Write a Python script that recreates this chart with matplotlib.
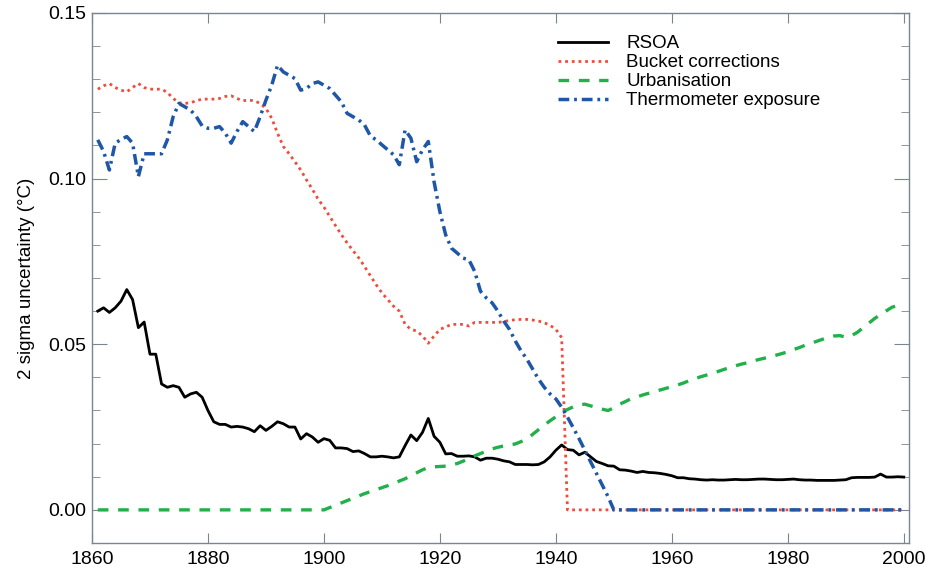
import numpy as np
import matplotlib
matplotlib.use('Agg')
import matplotlib.pyplot as plt

plt.rcParams['font.family'] = ['Liberation Sans', 'DejaVu Sans']

# years 1861-2000
years = np.arange(1861, 2001)

rsoa = [0.0600, 0.0610, 0.0596, 0.0610, 0.0630, 0.0665, 0.0635, 0.0550, 0.0567, 0.0470,
        0.0470, 0.0380, 0.0370, 0.0375, 0.0370, 0.0340, 0.0350, 0.0355, 0.0340, 0.0300,
        0.0266, 0.0258, 0.0258, 0.0250, 0.0252, 0.0250, 0.0245, 0.0236, 0.0254, 0.0240,
        0.0252, 0.0266, 0.0260, 0.0250, 0.0250, 0.0214, 0.0230, 0.0220, 0.0204, 0.0215,
        0.0210, 0.0187, 0.0187, 0.0185, 0.0176, 0.0178, 0.0170, 0.0160, 0.0160, 0.0162,
        0.0160, 0.0157, 0.0160, 0.0194, 0.0226, 0.0209, 0.0234, 0.0276, 0.0222, 0.0204,
        0.0169, 0.0170, 0.0162, 0.0162, 0.0163, 0.0160, 0.0150, 0.0156, 0.0156, 0.0153,
        0.0148, 0.0145, 0.0137, 0.0137, 0.0137, 0.0136, 0.0137, 0.0145, 0.0160, 0.0180,
        0.0196, 0.0182, 0.0180, 0.0166, 0.0174, 0.0160, 0.0146, 0.0140, 0.0133, 0.0132,
        0.0121, 0.0120, 0.0117, 0.0113, 0.0116, 0.0113, 0.0112, 0.0110, 0.0107, 0.0103,
        0.0097, 0.0097, 0.0094, 0.0093, 0.0091, 0.0090, 0.0091, 0.0090, 0.0090, 0.0091,
        0.0092, 0.0091, 0.0091, 0.0092, 0.0093, 0.0093, 0.0092, 0.0091, 0.0091, 0.0092,
        0.0093, 0.0091, 0.0090, 0.0090, 0.0089, 0.0089, 0.0089, 0.0089, 0.0090, 0.0091,
        0.0097, 0.0098, 0.0098, 0.0098, 0.0099, 0.0108, 0.0099, 0.0099, 0.0100, 0.0099]

bucket = [0.1270, 0.1280, 0.1287, 0.1275, 0.1267, 0.1262, 0.1275, 0.1287, 0.1275, 0.1270,
          0.1270, 0.1270, 0.1260, 0.1242, 0.1229, 0.1227, 0.1229, 0.1235, 0.1240, 0.1240,
          0.1240, 0.1242, 0.1248, 0.1250, 0.1242, 0.1235, 0.1237, 0.1235, 0.1227, 0.1212,
          0.1182, 0.1137, 0.1097, 0.1075, 0.1051, 0.1026, 0.0996, 0.0968, 0.0938, 0.0914,
          0.0886, 0.0858, 0.0831, 0.0806, 0.0783, 0.0761, 0.0735, 0.0707, 0.0680, 0.0655,
          0.0635, 0.0615, 0.0600, 0.0560, 0.0545, 0.0540, 0.0525, 0.0503, 0.0525, 0.0545,
          0.0552, 0.0560, 0.0560, 0.0560, 0.0555, 0.0566, 0.0566, 0.0566, 0.0566, 0.0566,
          0.0568, 0.0572, 0.0574, 0.0575, 0.0575, 0.0573, 0.0570, 0.0565, 0.0557, 0.0545,
          0.0520] + [0.0] * 59

urban = [0.0] * 40 + [
    0.0007, 0.0014, 0.0021, 0.0028, 0.0035, 0.0042, 0.0049, 0.0055, 0.0061, 0.0067,
    0.0073, 0.0080, 0.0087, 0.0094, 0.0103, 0.0112, 0.0121, 0.0128, 0.0130, 0.0131,
    0.0132, 0.0136, 0.0140, 0.0147, 0.0155, 0.0163, 0.0170, 0.0177, 0.0184, 0.0189,
    0.0193, 0.0196, 0.0199, 0.0206, 0.0214, 0.0228, 0.0242, 0.0256, 0.0269, 0.0281,
    0.0294, 0.0303, 0.0311, 0.0317, 0.0319, 0.0314, 0.0309, 0.0304, 0.0300, 0.0308,
    0.0319, 0.0327, 0.0336, 0.0341, 0.0347, 0.0352, 0.0357, 0.0362, 0.0367, 0.0372,
    0.0377, 0.0383, 0.0390, 0.0396, 0.0402, 0.0407, 0.0412, 0.0418, 0.0424, 0.0430,
    0.0435, 0.0440, 0.0444, 0.0449, 0.0454, 0.0458, 0.0462, 0.0467, 0.0472, 0.0477,
    0.0484, 0.0490, 0.0497, 0.0503, 0.0509, 0.0515, 0.0521, 0.0525, 0.0526, 0.0521,
    0.0526, 0.0536, 0.0550, 0.0564, 0.0578, 0.0590, 0.0601, 0.0612, 0.0617, 0.0608]

thermo = [0.1117, 0.1082, 0.1026, 0.1107, 0.1118, 0.1127, 0.1107, 0.1006, 0.1075, 0.1075,
          0.1075, 0.1075, 0.1117, 0.1187, 0.1227, 0.1217, 0.1207, 0.1187, 0.1159, 0.1152,
          0.1152, 0.1157, 0.1137, 0.1107, 0.1142, 0.1172, 0.1157, 0.1142, 0.1187, 0.1237,
          0.1282, 0.1342, 0.1322, 0.1312, 0.1302, 0.1267, 0.1272, 0.1287, 0.1292, 0.1282,
          0.1272, 0.1252, 0.1232, 0.1197, 0.1187, 0.1177, 0.1162, 0.1129, 0.1117, 0.1102,
          0.1087, 0.1072, 0.1042, 0.1147, 0.1122, 0.1051, 0.1087, 0.1112, 0.0990, 0.0900,
          0.0830, 0.0790, 0.0775, 0.0760, 0.0755, 0.0720, 0.0660, 0.0640, 0.0625, 0.0600,
          0.0570, 0.0545, 0.0510, 0.0480, 0.0455, 0.0425, 0.0395, 0.0370, 0.0350, 0.0335,
          0.0310, 0.0280, 0.0248, 0.0215, 0.0180, 0.0145, 0.0110, 0.0075, 0.0040, 0.0] + [0.0] * 50

labels = ['RSOA', 'Bucket corrections', 'Urbanisation', 'Thermometer exposure']

fig = plt.figure(figsize=(9.32, 5.72), dpi=100)
ax = fig.add_axes([0.0987, 0.0507, 0.8766, 0.9266])

ax.plot(years, rsoa, color='black', lw=2.0, label=labels[0])
ax.plot(years, bucket, color='#ef4c3c', lw=2.0, linestyle=(0, (1, 1.4)), label=labels[1])
ax.plot(years, urban, color='#22b04a', lw=2.4, linestyle=(0, (3.2, 2.9)), label=labels[2])
ax.plot(years, thermo, color='#1f57a8', lw=2.5, linestyle=(0, (3.1, 1.4, 0.8, 1.4)), label=labels[3])

ax.set_xlim(1860, 2000.9)
ax.set_ylim(-0.01, 0.15)
ax.set_xticks([1860, 1880, 1900, 1920, 1940, 1960, 1980, 2000])
ax.set_yticks([0.0, 0.05, 0.10, 0.15])
ax.set_yticks(np.arange(0, 0.151, 0.01), minor=True)
ax.set_yticklabels(['0.00', '0.05', '0.10', '0.15'])

spine_col = '#7a8590'
for s in ax.spines.values():
    s.set_color(spine_col)
    s.set_linewidth(1.0)
ax.tick_params(axis='both', which='both', direction='in', colors=spine_col,
               labelcolor='black', labelsize=14, top=True, right=True)
ax.tick_params(axis='x', which='major', length=7, pad=6)
ax.tick_params(axis='y', which='major', length=11, pad=4)
ax.tick_params(axis='y', which='minor', length=6)

ax.set_ylabel('2 sigma uncertainty (°C)', fontsize=13.5, labelpad=10)

ax.legend(loc='upper left', bbox_to_anchor=(0.570, 0.958), frameon=False, fontsize=13.5,
          handlelength=2.67, handletextpad=1.0, labelspacing=0.1,
          borderpad=0, borderaxespad=0)

fig.savefig('out.png', dpi=100)
